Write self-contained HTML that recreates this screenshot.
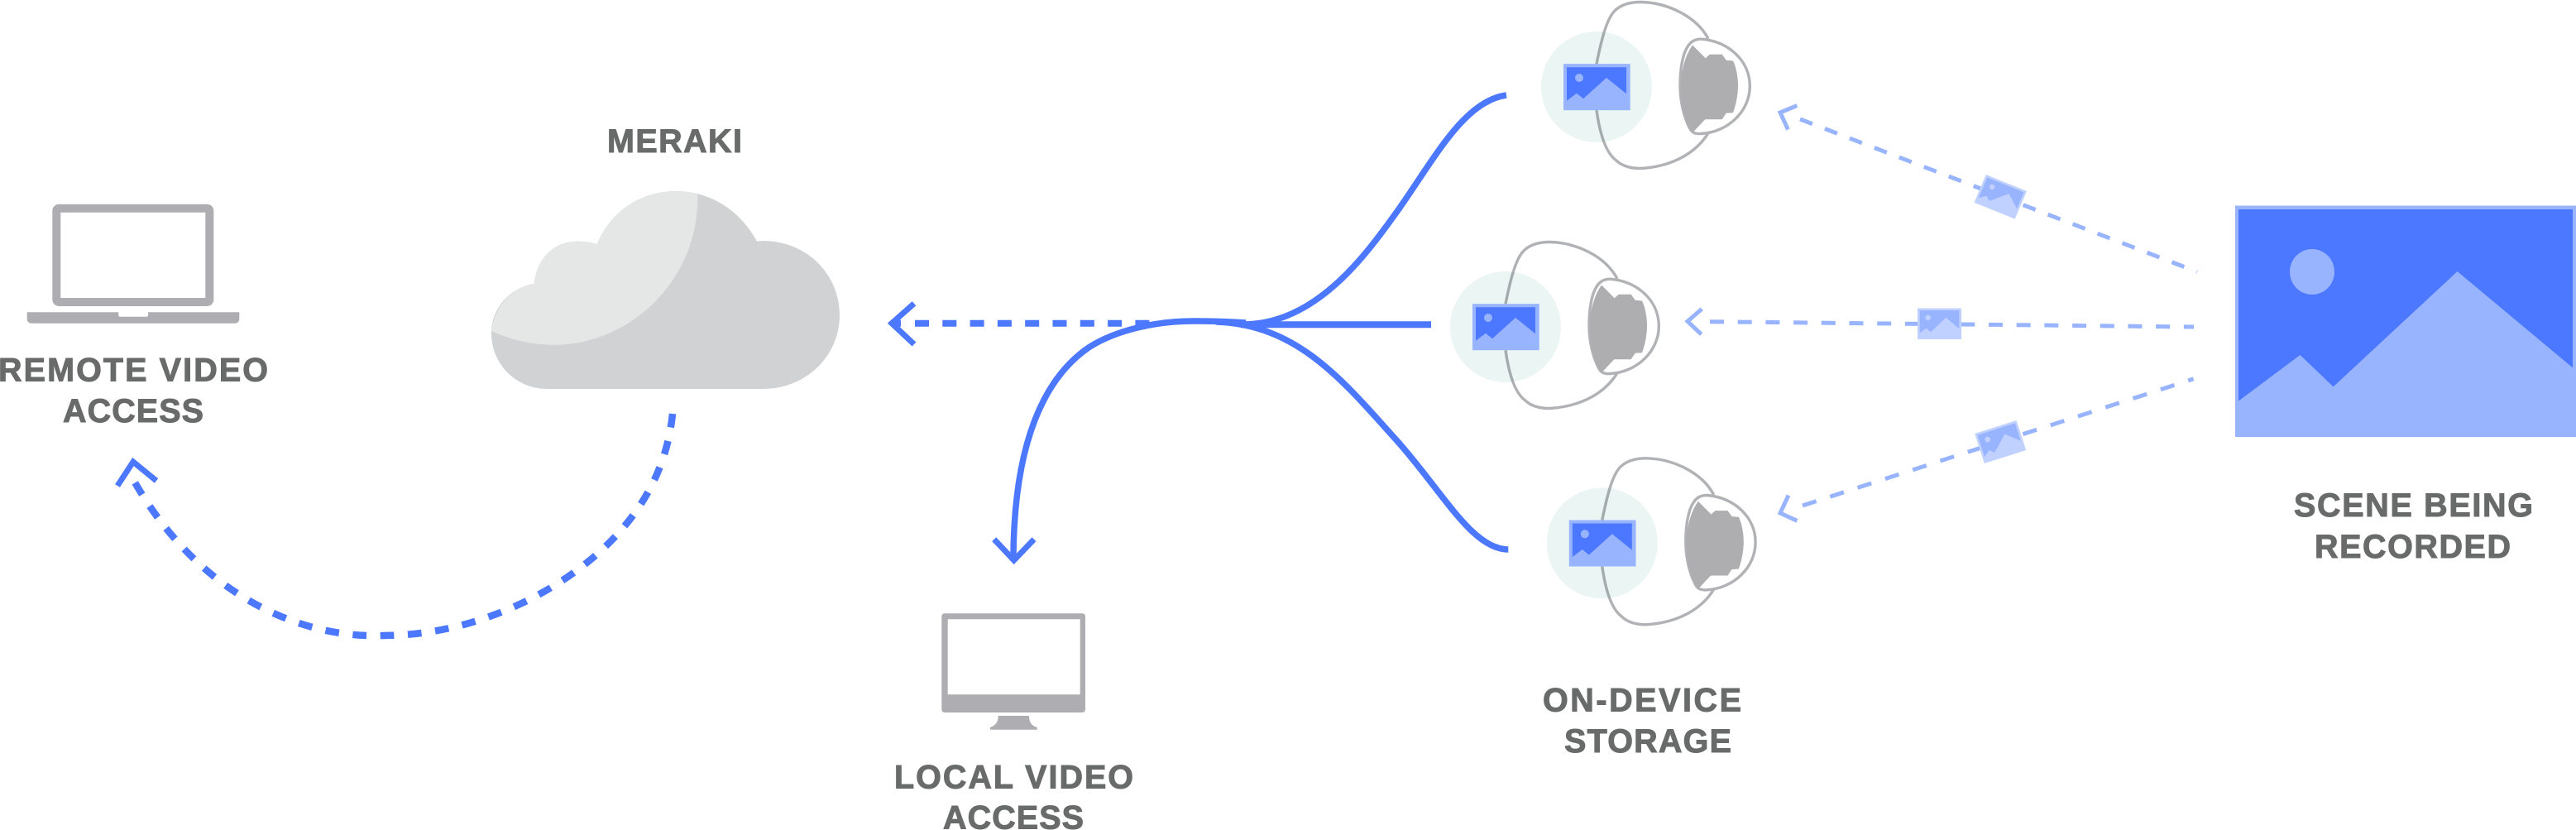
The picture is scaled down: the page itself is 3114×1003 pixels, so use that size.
<!DOCTYPE html>
<html><head><meta charset="utf-8"><style>
html,body{margin:0;padding:0;background:#fff;width:3114px;height:1003px;overflow:hidden}
svg{display:block}
text{font-family:"Liberation Sans",sans-serif;font-weight:700;font-size:39.5px;fill:#696b6b;stroke:#696b6b;stroke-width:1}
</style></head><body>
<svg xmlns="http://www.w3.org/2000/svg" width="3114" height="1003" viewBox="0 0 3114 1003">
<defs>
<g id="cam">
<path d="M0,-26.3C6.7,-60 13.3,-83.3 23.3,-91.7C31.7,-99.3 43.3,-101 53.3,-101C83.3,-100.7 120,-85 135,-56.7" fill="none" stroke="#b1b2b5" stroke-width="3.4"/>
<path d="M0,29.7C3.3,53.3 10,80 23.3,90C31.7,98.3 43.3,100 53.3,100C83.3,98.3 116.7,86.7 135,57.3" fill="none" stroke="#b1b2b5" stroke-width="3.4"/>
<circle cx="0" cy="1.5" r="67" fill="#ebf5f3" style="mix-blend-mode:multiply"/>
<path d="M126.7,-56.3C160,-53.3 185.3,-30 185.3,.7C185.3,30 160,56 126.7,58C118.3,58.7 115,56 112.7,51.7C104,35 101,15 101,0C101,-20 104,-38 110,-47C114,-54 120,-56.3 126.7,-56.3Z" fill="#fff" stroke="#b1b2b5" stroke-width="3.4"/>
<path d="M116,-49C106,-35 102,-15 102,0C102,20 106,42 116,57L131,41L133.3,40.7L151.7,40.7L156.7,33.3L165,32.7C169,22 171,10 171,0C171,-10 169,-22 165,-30L156.7,-30.7L151.7,-37.7L136.7,-37.7L131.7,-33.3Z" fill="#aeadb0"/>
<rect x="-40" y="-26.3" width="80.7" height="56" fill="#98b4ff"/>
<path d="M-36,-22.3H36V9.8L12,-9.5L-16,15.8L-24,9.2L-36,18.2Z" fill="#4c78ff"/>
<circle cx="-21" cy="-9.5" r="5" fill="#98b4ff"/>
</g>
<g id="chip">
<rect x="0" y="0" width="80" height="56" fill="#c0d1ff"/>
<path d="M4,4H76V37L52,17L24,43L16,36L4,45Z" fill="#98b4ff"/>
<circle cx="19" cy="17" r="5" fill="#c0d1ff"/>
</g>
</defs>

<!-- Cloud -->
<path d="M660,470H921.7C975,470 1015,430 1015,380.7C1015,331 975,291 921.7,291L915,291.7C895,255 860,231 816.7,231C775,231 738,255 721.7,295C712,292 705,291.7 696.7,291.7C668,291.7 648,315 646,342.7C618,347 594,372 594,401.7A67,67 0 0 0 660,470Z" fill="#d1d2d4"/>
<path d="M843.3,234C846,340 760,416.7 670,416.7C643,416.7 618,411 594.3,400C597,372 618,347 646,342.7C648,315 668,291.7 696.7,291.7C705,291.7 712,292 721.7,295C738,255 775,231 816.7,231C826,231 835,232 843.3,234Z" fill="#e5e7e7"/>

<!-- Laptop -->
<rect x="68.3" y="251.7" width="185" height="113.3" rx="3" fill="#fff" stroke="#aeadb2" stroke-width="10"/>
<path d="M32.7,377.3H143.3V380.7Q143.3,382.7 145.3,382.7H177Q179,382.7 179,380.7V377.3H289.3V384.7Q289.3,390.7 283.3,390.7H38.7Q32.7,390.7 32.7,384.7Z" fill="#aeadb2"/>

<!-- Monitor -->
<path d="M1142.3,741.3H1308Q1312,741.3 1312,745.3V857Q1312,861 1308,861H1142.3Q1138.3,861 1138.3,857V745.3Q1138.3,741.3 1142.3,741.3ZM1145.7,748.3V839.3H1305.7V748.3Z" fill="#aeadb2" fill-rule="evenodd"/>
<path d="M1206.7,865H1244C1244,873 1247,877 1253.7,879V881.7H1197V879C1203,877 1206.7,873 1206.7,865Z" fill="#aeadb2"/>

<!-- Solid blue -->
<g fill="none" stroke="#4c78ff" stroke-miterlimit="10">
<path d="M1821,115C1770,122 1735,190 1690,254C1650,310 1590,392 1503,392" stroke-width="7.5"/>
<path d="M1823.3,664C1780,664 1745,596 1690,534C1625,462 1570,392 1470,389" stroke-width="7.5"/>
<path d="M1730,392.3H1500" stroke-width="8"/>
<path d="M1506,390C1475,388 1460,388 1443,388C1400,388 1350,398 1316,420C1265,455 1225,530 1225,678" stroke-width="7.5"/>
<path d="M1201.7,651.7L1225.7,677L1250,651.7" stroke-width="7"/>
<!-- Dashed horizontal -->
<path d="M1106,390.7H1392" stroke-width="8" stroke-dasharray="17 16.3"/>
<path d="M1078,390.7H1089" stroke-width="8"/>
<path d="M1105,366.7L1078,390.7L1105,416" stroke-width="7"/>
<!-- Dashed curve -->
<path d="M813,500C806,570 770,640 685,698C620,742 540,768 464,768C370,772 245,725 163,583" stroke-width="8.5" pathLength="1000" stroke-dasharray="19.6 19.6"/>
<path d="M142,587L161,558L189,581" stroke-width="7"/>
</g>

<!-- Light dashed -->
<g fill="none" stroke="#98b4ff" stroke-width="5">
<path d="M2176,144L2656,328.5" stroke-dasharray="16 16.1"/>
<path d="M2067,388.7L2652,395" stroke-dasharray="17 16.7"/>
<path d="M2179,611L2651.7,457.8" stroke-dasharray="17.5 17.5"/>
<path d="M2172.4,127.6L2152,136L2161.4,156.6"/>
<path d="M2057.3,373.3L2040,388.3L2056.7,404"/>
<path d="M2162,598.6L2152,620L2172.4,629.3"/>
</g>

<!-- Chips -->
<use href="#chip" transform="matrix(.615 .249 -.255 .602 2400.8 211)"/>
<use href="#chip" transform="matrix(.6625 0 0 .67 2318 372.5)"/>
<use href="#chip" transform="matrix(.63 -.2 .207 .643 2387.2 524)"/>

<!-- Cameras -->
<use href="#cam" transform="translate(1930 103.5)"/>
<use href="#cam" transform="translate(1820 393.5)"/>
<use href="#cam" transform="translate(1936.8 654.8)"/>

<!-- Scene -->
<rect x="2702" y="248.5" width="412" height="279.5" fill="#98b4ff"/>
<path d="M2706,253H3110V444.4L2970.6,328L2820.6,467.4L2780.5,429L2706,484.6Z" fill="#4c78ff"/>
<ellipse cx="2795" cy="328.5" rx="27" ry="27.5" fill="#98b4ff"/>

<!-- Labels -->
<text x="734" y="184" textLength="163">MERAKI</text>
<text x="-2" y="460.7" textLength="326">REMOTE VIDEO</text>
<text x="76" y="510" textLength="170">ACCESS</text>
<text x="2773" y="624" textLength="289">SCENE BEING</text>
<text x="2798" y="674" textLength="237">RECORDED</text>
<text x="1865" y="859.3" textLength="240">ON-DEVICE</text>
<text x="1891" y="909" textLength="202">STORAGE</text>
<text x="1081" y="952.3" textLength="289">LOCAL VIDEO</text>
<text x="1140" y="1001.7" textLength="170">ACCESS</text>
</svg>
</body></html>
